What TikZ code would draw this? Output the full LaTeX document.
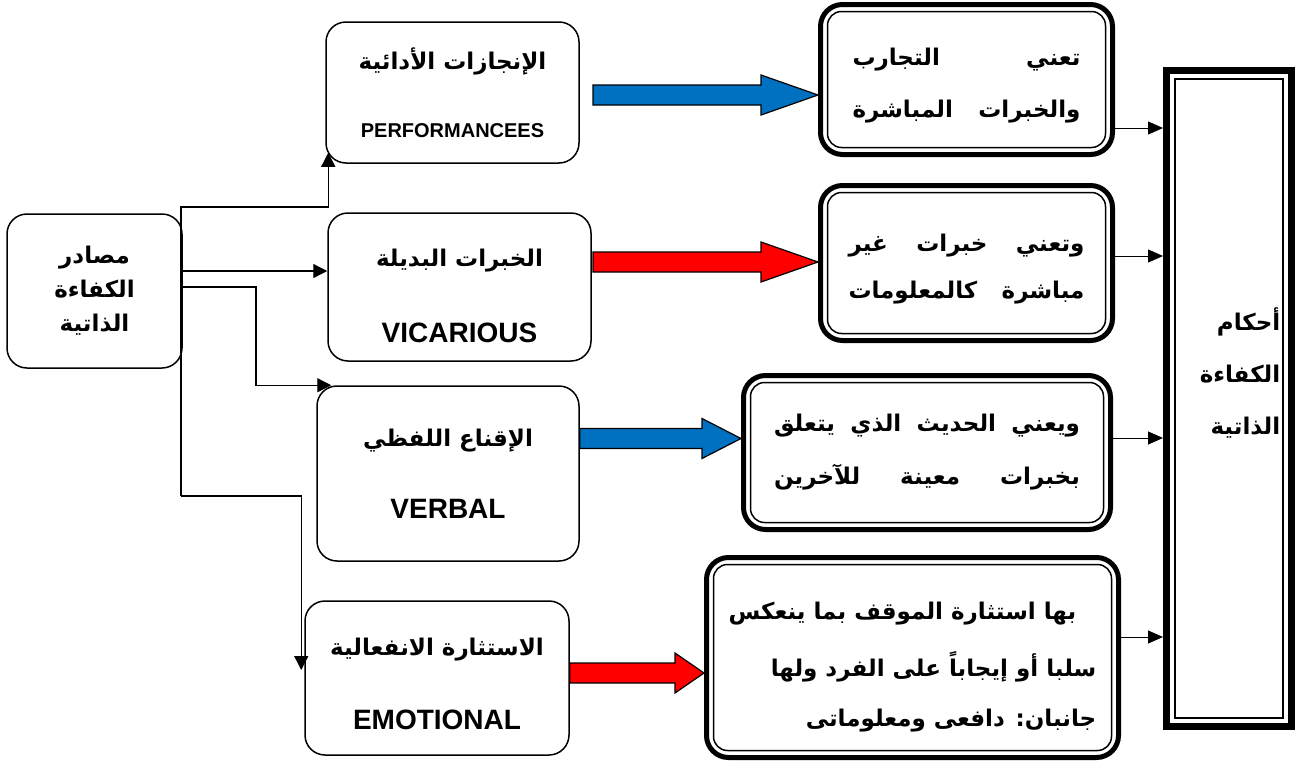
\documentclass[tikz,border=0pt]{standalone}
\usepackage{fontspec}
\setmainfont{Liberation Sans}
\newfontfamily\arabicfont[Script=Arabic]{DejaVu Sans}
\TeXXeTstate=1
\usepackage{xcolor}
\usetikzlibrary{arrows.meta,calc}

\definecolor{arrowblue}{RGB}{0,112,192}
\definecolor{arrowred}{RGB}{255,0,0}

\newcommand{\ar}[1]{{\arabicfont\fontsize{23}{28}\selectfont\bfseries\beginR #1\endR}}
\newcommand{\en}[1]{{\fontsize{28}{32}\selectfont\bfseries #1}}
\newcommand{\jline}[2]{\hbox to #1{\arabicfont\fontsize{23}{28}\selectfont\bfseries #2}}
% block arrow: start, tip, head length, colour
\newcommand{\blockarrow}[4]{%
  \draw[blockarr, fill=#4] let \p1=(#1), \p2=(#2) in
    (\x1,\y1+10pt) -- (\x2-#3,\y1+10pt) -- (\x2-#3,\y1+20pt) -- (\x2,\y1)
    -- (\x2-#3,\y1-20pt) -- (\x2-#3,\y1-10pt) -- (\x1,\y1-10pt) -- cycle;}

\begin{document}
\begin{tikzpicture}[x=1pt, y=-1pt,
    font=\fontsize{20}{24}\selectfont\bfseries,
    srcbox/.style={draw, line width=1.5pt, rounded corners=20pt, align=center,
    inner sep=0pt},
    descbox/.style={draw, line width=5pt, rounded corners=22pt, align=center,
    inner sep=0pt},
    inframe/.style={line width=1.5pt, rounded corners=14pt},
    conn/.style={line width=1.3pt, -{Triangle[length=14pt,width=14pt]}},
    small/.style={line width=1pt, -{Triangle[length=15pt,width=13pt]}},
    blockarr/.style={draw=black, line width=1.2pt}
]
\useasboundingbox (0,0) rectangle (1299,763);

% sources
\node[srcbox, minimum width=175pt, minimum height=154pt] (src) at (94.5,291)
  {\ar{مصادر}\\[10pt]\ar{الكفاءة}\\[10pt]\ar{الذاتية}};
\node[srcbox, minimum width=253pt, minimum height=141pt] (perf) at (452.5,92.5)
  {\ar{الإنجازات الأدائية}\\[44pt]PERFORMANCEES};
\node[srcbox, minimum width=263pt, minimum height=148pt] (vic) at (459.5,287)
  {\rule{0pt}{36pt}\ar{الخبرات البديلة}\\[50pt]\en{VICARIOUS}};
\node[srcbox, minimum width=262pt, minimum height=175pt] (verb) at (448,473.5)
  {\ar{الإقناع اللفظي}\\[46pt]\en{VERBAL}};
\node[srcbox, minimum width=264pt, minimum height=154pt] (emo) at (437,678)
  {\rule{0pt}{30pt}\ar{الاستثارة الانفعالية}\\[48pt]\en{EMOTIONAL}};

% meanings
\node[descbox, minimum width=292pt, minimum height=150pt] (desc1) at (966.5,79.5)
  {\rule{0pt}{30pt}\jline{228pt}{\beginR تعني التجارب\endR}\\[28pt]\jline{228pt}{\beginR والخبرات المباشرة\endR}};
\node[descbox, minimum width=292pt, minimum height=155pt] (desc2) at (966.5,263)
  {\rule{0pt}{30pt}\jline{236pt}{\beginR وتعني خبرات غير\endR}\\[23pt]\jline{236pt}{\beginR مباشرة كالمعلومات\endR}};
\node[descbox, minimum width=367pt, minimum height=154pt] (desc3) at (927,452.5)
  {\jline{306pt}{\beginR ويعني الحديث الذي يتعلق\endR}\\[26pt]\jline{306pt}{\beginR بخبرات معينة للآخرين\endR}};
\node[descbox, minimum width=412pt, minimum height=200pt, align=right] (desc4) at (912.5,657.5)
  {\rule{0pt}{36pt}\ar{بها استثارة الموقف بما ينعكس}\kern20pt\\[26pt]\ar{سلبا أو إيجاباً على الفرد ولها}\\[26pt]\ar{جانبان: دافعى ومعلوماتى}};
\foreach \n in {desc1,desc2,desc3,desc4}
  \draw[inframe] ([shift={(9.5pt,-9.5pt)}]\n.north west) rectangle ([shift={(-9.5pt,9.5pt)}]\n.south east);

% judgement
\node[draw, line width=7pt, minimum width=125pt, minimum height=656pt] (judge) at (1229,398)
  {};
\draw[line width=2pt] ([shift={(12pt,-12pt)}]judge.north west) rectangle ([shift={(-12pt,12pt)}]judge.south east);
\node[align=right] (judgelbl) at (1240,373)
  {\ar{أحكام}\\[28pt]\ar{الكفاءة}\\[28pt]\ar{الذاتية}};

% elbow connectors
\coordinate (k1) at (181,207);
\coordinate (k2) at (181,271);
\coordinate (k3) at (181,287);
\coordinate (k4) at (181,496);
\draw[conn] (k4) -- (k1) -| ([xshift=3pt,yshift=11pt]perf.south west);
\draw[conn] (k2) -- (vic.west |- k2);
\draw[conn] (k3) -- ++(75,0) |- ([xshift=15pt]verb.north west);
\draw[conn] (k4) -| ([xshift=-3pt,yshift=8pt]emo.west);

% block arrows
\coordinate (b1) at (593,95);
\coordinate (b2) at (593,262);
\coordinate (b3) at (verb.east |- 0,438.5);
\coordinate (b4) at (emo.east |- 0,673);
\blockarrow{b1}{desc1.west |- b1}{57pt}{arrowblue}
\blockarrow{b2}{desc2.west |- b2}{57pt}{arrowred}
\blockarrow{b3}{desc3.west |- b3}{39pt}{arrowblue}
\blockarrow{b4}{desc4.west |- b4}{29pt}{arrowred}

% into judgement
\foreach \n/\yy in {desc1/128, desc2/256, desc3/438, desc4/637}
  \draw[small] (\n.east |- 0,\yy) -- (judge.west |- 0,\yy);
\end{tikzpicture}
\end{document}
